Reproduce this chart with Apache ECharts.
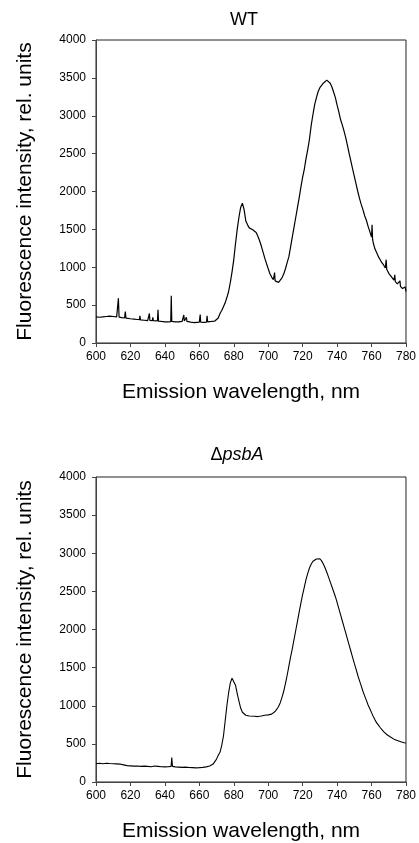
<!DOCTYPE html>
<html>
<head>
<meta charset="utf-8">
<script src="https://cdn.jsdelivr.net/npm/echarts@6/dist/echarts.min.js"></script>
<style>
html,body{margin:0;padding:0;background:#fff;}
#chart{width:419px;height:843px;}
</style>
</head>
<body>
<div id="chart"></div>
<script>
// Wavelength range and ticks
const xTicks = [600, 620, 640, 660, 680, 700, 720, 740, 760, 780];
const yTicks = [0, 500, 1000, 1500, 2000, 2500, 3000, 3500, 4000];

// WT emission spectrum [wavelength nm, intensity]
const wtSpectrum = [
[600,345],[602,340],[604,345],[606,350],[608,355],[610,350],[612,345],[612.6,340],[613,590],[613.4,342],
[615,335],[616.6,330],[617,415],[617.4,328],[620,320],[622,315],[624,310],[625.2,308],[625.5,360],[625.8,305],
[628,300],[630,295],[630.7,296],[631,390],[631.3,298],[632.7,296],[633,340],[633.3,295],[635.7,292],[636,440],
[636.3,290],[638,285],[640,280],[642,280],[643.4,282],[643.7,625],[644,285],[646,280],[648,278],[650,285],
[650.7,286],[651,370],[651.3,290],[652.2,288],[652.5,340],[652.8,285],[655,275],[657,270],[660,275],[660.3,277],
[660.5,375],[660.8,275],[663,272],[664.2,275],[664.5,360],[664.8,280],[667,285],[669,290],[670,300],[671,330],
[672,390],[673,430],[674,480],[675,530],[676,600],[677,680],[678,800],[679,940],[680,1100],[681,1310],
[682,1500],[683,1660],[684,1790],[685,1845],[686,1760],[687,1610],[688,1560],[689,1520],[690,1500],[691,1495],
[692,1490],[693,1460],[694,1410],[695,1350],[696,1280],[697,1200],[698,1120],[699,1050],[700,980],[701,915],
[702,870],[703,835],[703.5,840],[703.7,930],[704,820],[705,800],[706,800],[707,830],[708,860],[709,910],
[710,980],[711,1060],[712,1140],[713,1270],[714,1400],[715,1530],[716,1660],[717,1790],[718,1920],[719,2060],
[720,2190],[721,2300],[722,2440],[723,2560],[724,2700],[725,2880],[726,3020],[727,3150],[728,3240],[729,3320],
[730,3370],[731,3400],[732,3430],[733,3455],[734,3470],[735,3480],[736,3430],[737,3380],[738,3310],[739,3240],
[740,3140],[741,3050],[742,2950],[743,2880],[744,2800],[745,2710],[746,2610],[747,2500],[748,2400],[749,2300],
[750,2200],[751,2100],[752,2000],[753,1910],[754,1830],[755,1760],[756,1680],[757,1620],[758,1540],[759,1470],
[760,1400],[760.3,1560],[760.6,1370],[761,1320],[762,1240],[763,1190],[764,1140],[765,1100],[766,1060],[767,1030],
[768,990],[768.5,1100],[768.8,975],[769,960],[770,920],[771,890],[772,860],[773,830],[773.5,900],[773.8,810],
[774,800],[775,780],[776,760],[776.5,820],[776.8,748],[777,735],[778,720],[779,700],[779.5,740],[780,680]
];

// ΔpsbA emission spectrum [wavelength nm, intensity]
const psbASpectrum = [
[600,240],[602,245],[604,240],[606,245],[608,242],[610,240],[612,238],[614,235],[616,225],[618,215],
[620,212],[622,208],[624,210],[626,205],[628,208],[630,205],[632,200],[634,210],[636,205],[638,200],
[640,198],[642,200],[643.6,205],[644,320],[644.4,205],[646,198],[648,195],[650,192],[652,195],[654,190],
[656,188],[658,185],[660,188],[662,192],[664,198],[666,210],[668,235],[669,260],[670,300],[671,350],
[672,390],[673,480],[674,600],[675,800],[676,1000],[677,1170],[678,1300],[679,1360],[680,1350],[681,1270],
[682,1160],[683,1060],[684,970],[685,915],[686,890],[687,875],[688,870],[689,865],[690,860],[692,862],
[694,858],[696,865],[698,875],[700,880],[702,890],[703,905],[704,925],[705,955],[706,990],[707,1040],
[708,1110],[709,1190],[710,1290],[711,1400],[712,1520],[713,1640],[714,1750],[715,1870],[716,1990],[717,2110],
[718,2230],[719,2350],[720,2460],[721,2560],[722,2660],[723,2740],[724,2810],[725,2860],[726,2895],[727,2915],
[728,2925],[729,2930],[730,2928],[731,2900],[732,2860],[733,2810],[734,2750],[735,2690],[736,2625],[737,2560],
[738,2495],[739,2430],[740,2355],[741,2275],[742,2195],[743,2115],[744,2035],[745,1955],[746,1875],[747,1795],
[748,1715],[749,1635],[750,1555],[751,1480],[752,1400],[753,1330],[754,1260],[755,1190],[756,1130],[757,1070],
[758,1010],[759,960],[760,910],[761,860],[762,815],[763,775],[764,745],[765,715],[766,690],[767,660],
[768,640],[769,620],[770,605],[771,590],[772,575],[773,562],[774,555],[775,545],[776,537],[777,528],
[778,522],[779,515],[780,512]
];

const titles = ['WT', '{n|Δ}{i|psbA}'];
const xName = 'Emission wavelength, nm';
const yName = 'Fluorescence intensity, rel. units';

const FONT = '"Liberation Sans", Arial, Helvetica, sans-serif';
const chart = echarts.init(document.getElementById('chart'), null, {renderer: 'canvas'});

function xAxis(gi) {
  return {
    type: 'value', gridIndex: gi,
    min: xTicks[0], max: xTicks[xTicks.length - 1], interval: xTicks[1] - xTicks[0],
    name: xName, nameLocation: 'middle', nameGap: 39,
    nameTextStyle: {fontFamily: FONT, fontSize: 21, color: '#000', padding: [0, 20, 0, 0]},
    axisLine: {show: true, onZero: false, lineStyle: {color: '#444', width: 1}},
    axisTick: {show: true, inside: false, length: 4, lineStyle: {color: '#444'}},
    axisLabel: {fontFamily: FONT, fontSize: 12, color: '#000', margin: 8, formatter: v => String(v)},
    splitLine: {show: false}
  };
}
function yAxis(gi) {
  return {
    type: 'value', gridIndex: gi,
    min: yTicks[0], max: yTicks[yTicks.length - 1], interval: yTicks[1] - yTicks[0],
    name: yName, nameLocation: 'middle', nameGap: 60, nameRotate: 90,
    nameTextStyle: {fontFamily: FONT, fontSize: 21, color: '#000'},
    axisLine: {show: true, lineStyle: {color: '#444', width: 1}},
    axisTick: {show: true, inside: false, length: 4, lineStyle: {color: '#444'}},
    axisLabel: {fontFamily: FONT, fontSize: 12, color: '#000', margin: 10, formatter: v => String(v)},
    splitLine: {show: false}
  };
}

const option = {
  backgroundColor: '#fff',
  animation: false,
  title: [
    {text: titles[0], left: 244, top: 11, textAlign: 'center', padding: 0,
     textStyle: {fontFamily: FONT, fontSize: 18, fontWeight: 'normal', color: '#000'}},
    {text: titles[1], left: 237, top: 446, textAlign: 'center', padding: 0,
     textStyle: {fontFamily: FONT, fontSize: 18, fontWeight: 'normal', color: '#000',
       rich: {n: {fontFamily: FONT, fontSize: 18, color: '#000'},
              i: {fontFamily: FONT, fontSize: 18, fontStyle: 'italic', color: '#000'}}}}
  ],
  grid: [
    {left: 96, top: 40, width: 310, height: 303, show: true, borderColor: '#222', borderWidth: 1, backgroundColor: 'transparent'},
    {left: 96, top: 477, width: 310, height: 305, show: true, borderColor: '#222', borderWidth: 1, backgroundColor: 'transparent'}
  ],
  xAxis: [xAxis(0), xAxis(1)],
  yAxis: [yAxis(0), yAxis(1)],
  series: [
    {type: 'line', xAxisIndex: 0, yAxisIndex: 0, data: wtSpectrum, showSymbol: false, symbol: 'none',
     lineStyle: {color: '#000', width: 1.2}, silent: true},
    {type: 'line', xAxisIndex: 1, yAxisIndex: 1, data: psbASpectrum, showSymbol: false, symbol: 'none',
     lineStyle: {color: '#000', width: 1.1}, silent: true}
  ]
};
chart.setOption(option);
</script>
</body>
</html>
